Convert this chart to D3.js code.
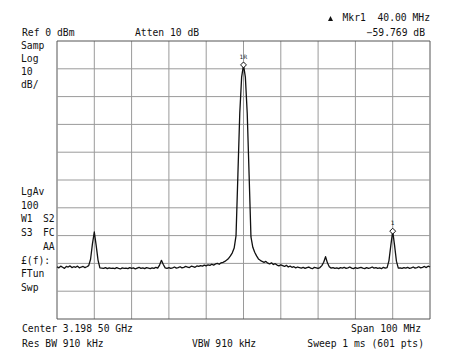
<!DOCTYPE html>
<html><head><meta charset="utf-8">
<script src="https://cdn.jsdelivr.net/npm/d3@7"></script>
<style>html,body{margin:0;padding:0;background:#fff;}svg{display:block;}</style>
</head><body>
<svg id="c" width="456" height="363"></svg>
<script>
// ---- data ----
const sweepStartMHz = -50;          // offset from center 3.198 50 GHz
const sweepStepMHz = 0.5;
const refLevel = 0, dbPerDiv = 10, divisions = 10;
const freqGridMHz = [-50,-40,-30,-20,-10,0,10,20,30,40,50];
const levelGridDb = [0,-10,-20,-30,-40,-50,-60,-70,-80,-90,-100];
const traceDbm = [
 -81.2,-81.6,-81.0,-81.4,-81.8,-81.1,-81.3,-80.9,-81.5,-81.2,
 -81.4,-81.0,-81.6,-81.3,-81.1,-81.5,-81.2,-80.8,-78.5,-73.0,
 -68.7,-73.5,-78.8,-81.6,-81.7,-81.8,-81.5,-81.9,-81.6,-81.8,
 -81.7,-81.9,-81.5,-81.8,-82.0,-81.6,-81.8,-81.7,-81.9,-81.5,
 -81.8,-81.6,-82.0,-81.7,-81.4,-81.8,-81.6,-81.9,-81.5,-81.7,
 -81.9,-81.6,-81.8,-81.4,-81.7,-80.6,-78.9,-80.4,-81.6,-81.8,
 -81.5,-81.8,-81.6,-81.3,-81.7,-81.5,-81.2,-81.6,-81.4,-81.1,
 -81.3,-81.5,-81.0,-81.2,-81.4,-80.9,-81.1,-80.8,-81.0,-80.6,
 -80.9,-80.5,-80.7,-80.3,-80.6,-80.2,-80.0,-80.3,-79.8,-79.6,
 -79.3,-78.8,-78.2,-77.3,-76.2,-74.5,-70.0,-48.0,-26.0,-13.0,
 -8.6,
 -13.0,-26.0,-48.0,-70.5,-74.2,-76.0,-77.3,-78.4,-78.9,-79.3,
 -79.6,-79.3,-79.9,-80.2,-79.8,-80.4,-80.1,-80.6,-80.9,-80.5,
 -80.8,-81.1,-80.7,-81.3,-81.0,-81.4,-81.2,-81.6,-81.3,-81.5,
 -81.7,-81.4,-81.8,-81.5,-81.3,-81.7,-81.9,-81.4,-81.6,-81.8,
 -81.5,-80.8,-79.6,-77.6,-79.8,-81.2,-81.7,-81.5,-81.8,-81.6,
 -81.9,-81.5,-81.7,-81.4,-81.8,-81.6,-81.3,-81.7,-81.9,-81.5,
 -81.8,-81.6,-81.4,-81.7,-81.9,-81.5,-81.8,-81.6,-81.3,-81.7,
 -81.5,-81.8,-81.6,-81.9,-81.4,-81.7,-81.5,-79.0,-73.5,-68.4,
 -73.5,-79.2,-81.7,-81.6,-81.8,-81.5,-81.7,-81.4,-81.8,-81.6,
 -81.3,-81.7,-81.5,-81.2,-81.6,-81.4,-81.1,-81.5,-81.0,-81.3
];
const markerFreqMHz = [0, 40];
const markerLevelDbm = [-8.6, -68.4];
const markerLabels = ["1R", "1"];
const headerLeft = ["Ref 0 dBm", "Atten 10 dB"];
const headerRight = ["Mkr1  40.00 MHz", "\u221259.769 dB"];
const sideTop = ["Samp", "Log", "10", "dB/"];
const sideBottomLeft = ["LgAv", "100", "W1", "S3", "", "\u00a3(f):", "FTun", "Swp"];
const sideBottomRight = ["", "", "S2", "FC", "AA", "", "", ""];
const footer = ["Center 3.198 50 GHz", "Span 100 MHz", "Res BW 910 kHz", "VBW 910 kHz", "Sweep 1 ms (601 pts)"];

// ---- drawing ----
const svg = d3.select("#c");
const L = 57, R = 430, T = 41, B = 319;
const x = d3.scaleLinear().domain([-50, 50]).range([L, R]);
const y = d3.scaleLinear().domain([refLevel, refLevel - dbPerDiv*divisions]).range([T, B]);
const font = "'DejaVu Sans Mono', 'Liberation Mono', monospace";
const fs = 9.7;

svg.append("rect").attr("width",456).attr("height",363).attr("fill","#fff");

const g = svg.append("g");
g.selectAll("line.v").data(freqGridMHz).join("line")
  .attr("x1", d=>x(d)).attr("x2", d=>x(d)).attr("y1", T).attr("y2", B)
  .attr("stroke", d => (d===-50||d===50) ? "#555" : "#9a9a9a").attr("stroke-width", 1);
g.selectAll("line.h").data(levelGridDb).join("line")
  .attr("y1", d=>y(d)).attr("y2", d=>y(d)).attr("x1", L).attr("x2", R)
  .attr("stroke", d => (d===0||d===-100) ? "#555" : "#9a9a9a").attr("stroke-width", 1);

const line = d3.line().x((d,i)=>x(sweepStartMHz + i*sweepStepMHz)).y(d=>y(d));
svg.append("path").datum(traceDbm).attr("d", line)
  .attr("fill","none").attr("stroke","#111").attr("stroke-width",1.3).attr("stroke-linejoin","round");

// markers
markerFreqMHz.forEach((f,i)=>{
  const cx = x(f), cy = y(markerLevelDbm[i]);
  svg.append("path").attr("d", d3.symbol(d3.symbolDiamond2, 22)())
    .attr("transform", `translate(${cx},${cy})`)
    .attr("fill","#fff").attr("stroke","#111").attr("stroke-width",1);
  svg.append("text").attr("x", cx).attr("y", cy - 6).attr("text-anchor","middle")
    .attr("font-family", font).attr("font-size", 6).attr("fill","#222")
    .attr("letter-spacing", 0.5).text(markerLabels[i]);
});

function txt(t, xx, yy, anchor) {
  svg.append("text").attr("x", xx).attr("y", yy).attr("text-anchor", anchor||"start")
    .attr("font-family", font).attr("font-size", fs).attr("fill", "#111")
    .attr("xml:space","preserve").style("white-space","pre").text(t);
}
txt(headerLeft[0], 22, 36);
txt(headerLeft[1], 135, 36);
txt(headerRight[0], 430, 21, "end");
txt(headerRight[1], 425, 36, "end");
svg.append("path").attr("d","M328,21L333,21L330.5,16Z").attr("fill","#111");
sideTop.forEach((t,i)=>txt(t, 21, 49 + i*13));
sideBottomLeft.forEach((t,i)=>{ if (t) txt(t, 21, 195 + i*13.7); });
sideBottomRight.forEach((t,i)=>{ if (t) txt(t, 43, 195 + i*13.7); });
txt(footer[0], 22, 332);
txt(footer[1], 421, 332, "end");
txt(footer[2], 22, 347);
txt(footer[3], 192, 347);
txt(footer[4], 424, 347, "end");
</script>
</body></html>
